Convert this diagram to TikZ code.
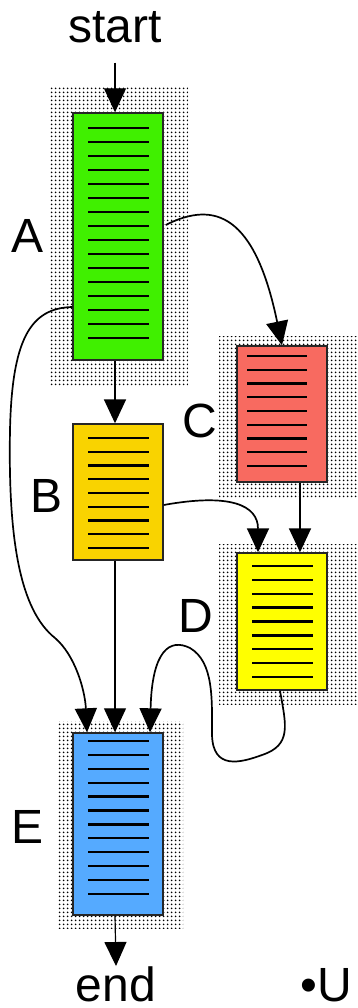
\documentclass[tikz,border=0pt]{standalone}
\usepackage{fontspec}
\setmainfont{Liberation Sans}
\usetikzlibrary{arrows.meta,patterns.meta}
\definecolor{agreen}{RGB}{64,240,0}
\definecolor{borange}{RGB}{249,211,0}
\definecolor{cred}{RGB}{248,106,96}
\definecolor{dyellow}{RGB}{255,255,0}
\definecolor{eblue}{RGB}{85,170,255}
\begin{document}
\begin{tikzpicture}[x=1pt,y=-1pt,
  lbl/.style={font=\fontsize{48}{56}\selectfont, inner sep=0pt, anchor=base},
  block/.style={draw=black!85, line width=1.4pt, inner sep=0pt, minimum width=90pt},
  dotfield/.style={pattern={Dots[radius=1.2pt,distance=4pt]}},
  rule/.style={line width=2.3pt, black},
  flow/.style={line width=1.7pt, -{Triangle[length=24pt,width=22pt]}},
  thinflow/.style={line width=1.2pt, -{Triangle[length=24pt,width=22pt]}},
]
\fill[white] (0,0) rectangle (358,1008);
\useasboundingbox (0,0) rectangle (358,1008);

% stippled surroundings
\path[dotfield] (49,88) rectangle (188,386);
\path[dotfield] (219,336) rectangle (362,497);
\path[dotfield] (219,544) rectangle (362,704);
\path[dotfield] (58,721) rectangle (183,928);

% blocks
\node[block, fill=agreen,  minimum height=247pt] (A) at (118,236.5) {};
\node[block, fill=borange, minimum height=136pt] (B) at (118,492) {};
\node[block, fill=cred,    minimum height=136pt] (C) at (282,414) {};
\node[block, fill=dyellow, minimum height=137pt] (D) at (282,621.5) {};
\node[block, fill=eblue,   minimum height=182pt] (E) at (118,824) {};

% instruction lines inside the blocks
\foreach \k in {0,...,15} \draw[rule] (88,128+14*\k) -- (149,128+14*\k);
\foreach \k in {0,...,8}  \draw[rule] (88,438+13.75*\k) -- (149,438+13.75*\k);
\foreach \k in {0,...,8}  \draw[rule] (247,356+13.75*\k) -- (307,356+13.75*\k);
\foreach \k in {0,...,8}  \draw[rule] (252,566+13.875*\k) -- (313,566+13.875*\k);
\foreach \k in {0,...,11} \draw[rule] (88,741+13.9*\k) -- (149,741+13.9*\k);

% labels
\node[lbl] (start) at (115,43) {start};
\node[lbl] (la) at (28,252) {A};
\node[lbl] (lb) at (47,512) {B};
\node[lbl] (lc) at (200,437) {C};
\node[lbl] (ld) at (196,632) {D};
\node[lbl] (le) at (28,843) {E};
\node[lbl] (end) at (116,1001) {end};
\node[lbl, anchor=base west] (bullet) at (300,1001) {•U};

% edges
\draw[thinflow, shorten <=19pt] (start.south) -- ([xshift=-3pt]A.north);
\draw[flow] ([xshift=-3pt]A.south) -- ([xshift=-3pt]B.north);
\draw[flow] ([xshift=2pt,yshift=11.5pt]A.east) .. controls (215,200) and (255,215) .. (C.north);
\draw[flow] ([yshift=-70.5pt]A.west) .. controls (30,308) and (12,340) .. (10,430)
   .. controls (8,540) and (20,610) .. (55,638)
   .. controls (75,655) and (85,690) .. ([xshift=-31pt]E.north);
\draw[thinflow] ([xshift=-3pt]B.south) -- ([xshift=-3pt]E.north);
\draw[flow] ([yshift=-13pt]B.east) .. controls (230,493) and (258,505) .. ([xshift=-24pt]D.north);
\draw[flow] ([xshift=18pt]C.south) -- ([xshift=18pt]D.north);
\draw[flow] ([xshift=-2pt]D.south) .. controls (286,725) and (292,745) .. (262,755)
   .. controls (240,763) and (213,770) .. (212,735)
   .. controls (212,700) and (214,662) .. (190,648)
   .. controls (170,638) and (152,650) .. ([xshift=32pt]E.north);
\draw[thinflow] ([xshift=-3pt]E.south) -- (end.north);
\end{tikzpicture}
\end{document}
